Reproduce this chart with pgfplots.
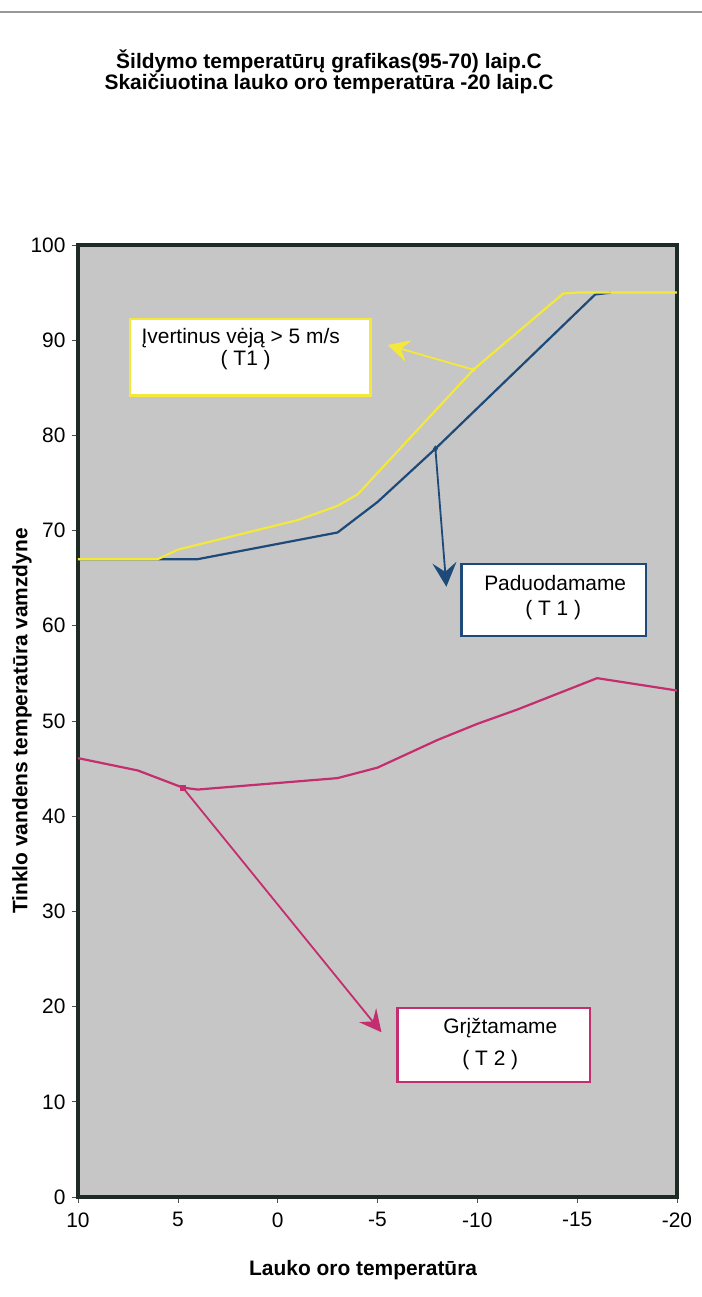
\documentclass[border=0pt]{standalone}
\usepackage{fontspec}
\setmainfont{Liberation Sans}
\usepackage{pgfplots}
\pgfplotsset{compat=1.18}
\usetikzlibrary{arrows.meta}

\definecolor{plotbg}{HTML}{C6C6C6}
\definecolor{frame}{HTML}{1E2A24}
\definecolor{wind}{HTML}{F4E83A}
\definecolor{supply}{HTML}{1D4A78}
\definecolor{ret}{HTML}{C42E6E}

\begin{document}
\begin{tikzpicture}
\useasboundingbox (0,0) rectangle (702bp,1297bp);
% scan edge line at the top
\draw[gray!80, line width=1.2bp] (0,1285bp) -- (702bp,1285bp);
% title
\node[align=center, font=\bfseries\fontsize{21}{21}\selectfont] at (329bp,1225bp)
  {Šildymo temperatūrų grafikas(95-70) laip.C\\Skaičiuotina lauko oro temperatūra -20 laip.C};

\begin{axis}[
  at={(78bp,100bp)}, anchor=south west,
  scale only axis,
  width=599bp, height=952bp,
  x dir=reverse,
  xmin=-20, xmax=10,
  ymin=0, ymax=100,
  xtick={-20,-15,-10,-5,0,5,10},
  ytick={0,10,20,30,40,50,60,70,80,90,100},
  tick align=outside,
  major tick length=6bp,
  tick style={black!70, line width=0.6bp},
  xtick pos=bottom, ytick pos=left,
  /pgf/number format/assume math mode=true,
  ticklabel style={font=\fontsize{21}{21}\selectfont},
  yticklabel style={xshift=-3bp},
  xticklabel style={yshift=-6bp},
  axis background/.style={fill=plotbg},
  axis line style={frame, line width=4.5bp},
  xlabel={Lauko oro temperatūra},
  ylabel={Tinklo vandens temperatūra vamzdyne},
  label style={font=\bfseries\fontsize{21}{21}\selectfont},
  xlabel style={at={(axis description cs:0.476,-0.0767)}, anchor=center},
  ylabel style={at={(axis description cs:-0.0935,0.5)}, anchor=center},
  clip=true,
]
% Paduodamame (T1)
\addplot[supply, line width=2.2bp] coordinates {
  (10,67) (4,67) (1,68.2) (-3,69.8) (-5,73) (-7.9,78.6) (-15.9,94.8) (-16.7,95)
};
% Ivertinus veja > 5 m/s (T1)
\addplot[wind, line width=2.2bp] coordinates {
  (10,67) (6,67) (5,68) (-1,71.1) (-3,72.6) (-4,73.8) (-9.8,86.9) (-14.3,94.9) (-15,95) (-20,95)
};
% Grizstamame (T2)
\addplot[ret, line width=2.2bp] coordinates {
  (10,46.1) (7,44.8) (4.75,43) (4,42.8) (-3,44) (-5,45.1) (-8,48) (-10,49.7) (-12,51.2) (-16,54.5) (-20,53.2)
};

% callout markers on the curves
\addplot[wind, only marks, mark=*, mark size=2bp] coordinates {(-9.8,86.9)};
\addplot[supply, only marks, mark=diamond*, mark size=3bp] coordinates {(-7.9,78.6)};
\addplot[ret, only marks, mark=square*, mark size=2.5bp] coordinates {(4.75,43)};

% callout arrows
\addplot[wind, line width=1.8bp, -{Stealth[length=22bp, width=22bp, inset=8bp]}]
  coordinates {(-9.8,86.9) (-5.5,89.5)};
\addplot[supply, line width=1.8bp, -{Stealth[length=24bp, width=24bp, inset=9bp]}]
  coordinates {(-7.9,78.6) (-8.45,64.1)};
\addplot[ret, line width=1.8bp, -{Stealth[length=22bp, width=22bp, inset=8bp]}]
  coordinates {(4.75,43) (-5.2,17.3)};

% callout boxes
\draw[wind, line width=2.4bp, fill=white] (axis cs:7.4,92.2) rectangle (axis cs:-4.65,84.2);
\node[font=\fontsize{21}{21}\selectfont] at (axis cs:1.85,90.2) {Įvertinus vėją > 5 m/s};
\node[font=\fontsize{21}{21}\selectfont] at (axis cs:1.6,87.9) {( T1 )};

\draw[supply, line width=2.4bp, fill=white] (axis cs:-9.2,66.5) rectangle (axis cs:-18.45,58.9);
\node[font=\fontsize{21}{21}\selectfont] at (axis cs:-13.9,64.5) {Paduodamame};
\node[font=\fontsize{21}{21}\selectfont] at (axis cs:-13.8,61.7) {( T 1 )};

\draw[ret, line width=2.4bp, fill=white] (axis cs:-6,19.85) rectangle (axis cs:-15.65,12.1);
\node[font=\fontsize{21}{21}\selectfont] at (axis cs:-11.15,17.75) {Grįžtamame};
\node[font=\fontsize{21}{21}\selectfont] at (axis cs:-10.65,14.4) {( T 2 )};
\end{axis}
\end{tikzpicture}
\end{document}
